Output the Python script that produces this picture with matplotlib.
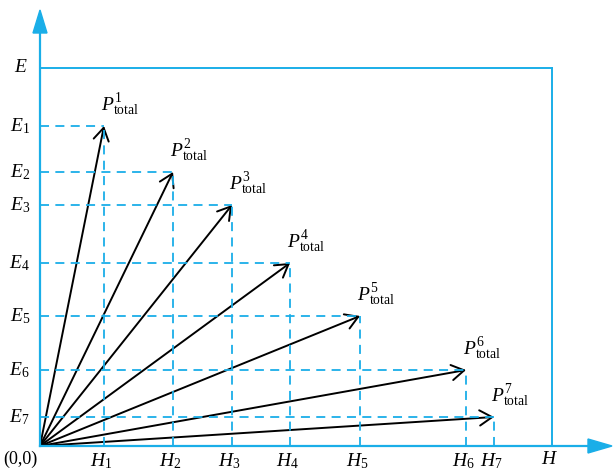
import matplotlib.pyplot as plt
from matplotlib.patches import FancyArrowPatch, Polygon

plt.rcParams['mathtext.fontset'] = 'custom'
plt.rcParams['mathtext.it'] = 'Liberation Serif:italic'
plt.rcParams['mathtext.rm'] = 'Liberation Serif'
plt.rcParams['font.family'] = 'Liberation Serif'

BLUE = "#1aaee8"

# vector end points (H_i, E_i)
h_vals = [64, 133, 192, 250, 320, 426, 454]
e_vals = [320, 274, 241, 183, 130, 76, 29]
h_max = 512
e_max = 378
h_labels = [f"$H_{{{i}}}$" for i in range(1, 8)]
e_labels = [f"$E_{{{i}}}$" for i in range(1, 8)]
p_labels = [f"$P^{{{i}}}_{{\\mathrm{{total}}}}$" for i in range(1, 8)]

fig = plt.figure(figsize=(6.16, 4.72), dpi=100)
ax = fig.add_axes([0, 0, 1, 1])
ax.set_xlim(-40, 576)
ax.set_ylim(-26, 446)
ax.axis("off")

# axes with arrowheads
ax.plot([0, 0], [0, 420], color=BLUE, lw=1.6)
ax.plot([0, 552], [0, 0], color=BLUE, lw=1.6)
ax.add_patch(Polygon([[-7, 413], [7, 413], [0, 436]], closed=True, color=BLUE))
ax.add_patch(Polygon([[548, -7], [548, 7], [572, 0]], closed=True, color=BLUE))

# outer bound lines E and H
ax.plot([0, h_max], [e_max, e_max], color=BLUE, lw=1.4)
ax.plot([h_max, h_max], [0, e_max], color=BLUE, lw=1.4)
ax.text(-12, e_max, "$E$", ha="right", va="center", fontsize=14)
ax.text(h_max - 2, -5, "$H$", ha="center", va="top", fontsize=14)
ax.text(-20, -5, "(0,0)", ha="center", va="top", fontsize=13)

for h, e, hl, el, pl in zip(h_vals, e_vals, h_labels, e_labels, p_labels):
    ax.plot([0, h], [e, e], color=BLUE, lw=1.3, ls=(0, (5, 3.5)))
    ax.plot([h, h], [0, e], color=BLUE, lw=1.3, ls=(0, (5, 3.5)))
    arr = FancyArrowPatch((0, 0), (h, e), arrowstyle="->,head_length=9,head_width=5.5",
                          mutation_scale=1, color="black", lw=1.4, shrinkA=0, shrinkB=0)
    ax.add_patch(arr)
    ax.text(h - 3, -5, hl, ha="center", va="top", fontsize=14)
    ax.text(-10, e, el, ha="right", va="center", fontsize=14)
    ax.text(h - 3, e + 8, pl, ha="left", va="bottom", fontsize=14)

plt.savefig("out.png", dpi=100)
